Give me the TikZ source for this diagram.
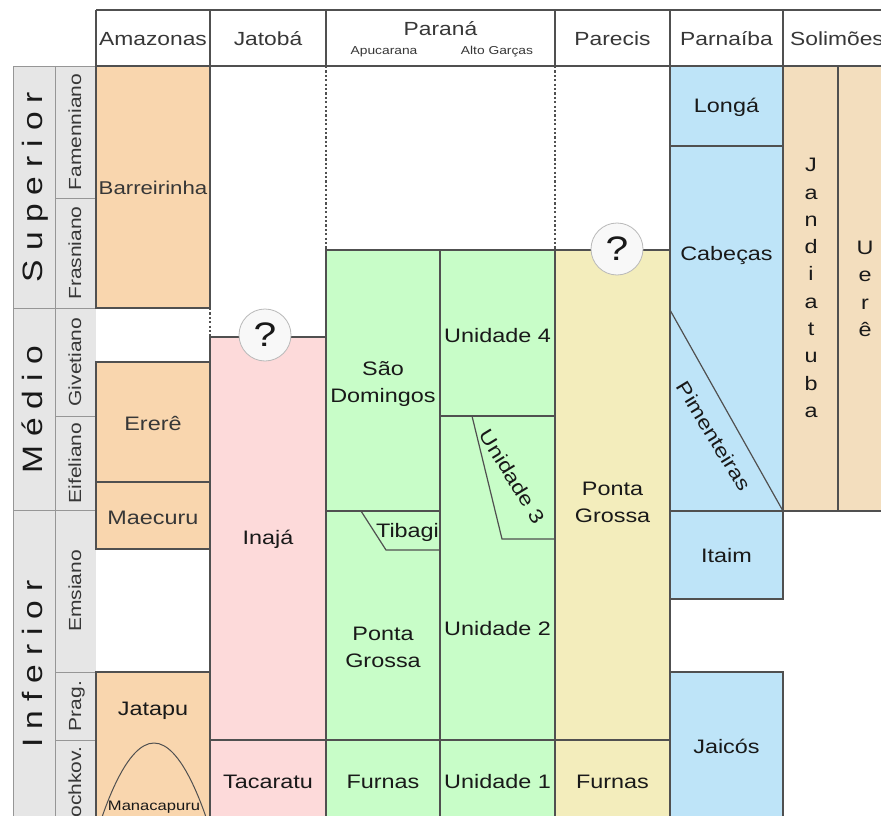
\documentclass[tikz,border=0pt]{standalone}
\usepackage{fontspec}
\setmainfont[FakeStretch=1.2]{Liberation Sans}
\definecolor{amz}{RGB}{249,214,174}
\definecolor{pnk}{RGB}{253,218,218}
\definecolor{grn}{RGB}{200,253,200}
\definecolor{ylw}{RGB}{243,237,188}
\definecolor{blu}{RGB}{190,228,248}
\definecolor{sol}{RGB}{243,222,190}
\definecolor{gry}{RGB}{230,230,230}
\definecolor{bd}{RGB}{80,80,80}
\definecolor{eln}{RGB}{150,150,150}
\definecolor{tx}{RGB}{25,25,25}
\definecolor{txb}{RGB}{55,55,55}
\definecolor{qfill}{RGB}{248,248,248}
\definecolor{qline}{RGB}{185,185,185}
\newcommand\sgap{\hspace{9pt}}
\tikzset{
  cell/.style={draw=bd, line width=1.2pt},
  eraline/.style={draw=eln, line width=0.9pt},
  dotl/.style={draw=bd, line width=1.5pt, dash pattern=on 2.2pt off 2.2pt},
  lbl/.style={text=tx, font=\fontsize{19.5}{27.3}\selectfont, inner sep=0pt, anchor=base},
  stack/.style={text=tx, font=\fontsize{19.5}{27.3}\selectfont, inner sep=0pt, align=center},
  slant/.style={text=tx, font=\fontsize{19.5}{22}\selectfont, inner sep=0pt},
  stagelbl/.style={text=txb, font=\fontsize{17.5}{20}\selectfont, rotate=90, inner sep=0pt, anchor=base},
  eralbl/.style={text=tx, font=\fontsize{28}{30}\selectfont, rotate=90, inner sep=0pt, anchor=base},
  hdr/.style={text=txb, font=\fontsize{19}{22}\selectfont, inner sep=0pt, anchor=base},
  sublbl/.style={text=txb, font=\fontsize{11.5}{13}\selectfont, inner sep=0pt, anchor=base},
  qm/.style={circle, minimum size=52pt, fill=qfill, draw=qline, line width=0.8pt, inner sep=0pt, text=tx, font=\fontsize{34}{36}\selectfont},
}
\begin{document}
\begin{tikzpicture}[x=1pt,y=-1pt]
\useasboundingbox (0,0) rectangle (881,816);
\clip (0,0) rectangle (881,816);
\fill[white] (0,0) rectangle (881,816);

% ---- era / stage columns
\fill[gry] (13,66) rectangle (96,840);
\draw[eraline] (13,840) -- (13,66) -- (96,66);
\draw[eraline] (55,66) -- (55,840);
\draw[eraline] (13,308) -- (96,308);
\draw[eraline] (13,510) -- (96,510);
\draw[eraline] (55,198) -- (96,198);
\draw[eraline] (55,416) -- (96,416);
\draw[eraline] (55,672) -- (96,672);
\draw[eraline] (55,740) -- (96,740);

\node[eralbl] (sup) at (42,187) {S\sgap u\sgap p\sgap e\sgap r\sgap i\sgap o\sgap r};
\node[eralbl] (med) at (42,410) {M\sgap é\sgap d\sgap i\sgap o};
\node[eralbl] (inf) at (42,664) {I\sgap n\sgap f\sgap e\sgap r\sgap i\sgap o\sgap r};

\node[stagelbl] (fam) at (81,132) {Famenniano};
\node[stagelbl] (fra) at (81,253) {Frasniano};
\node[stagelbl] (giv) at (81,362) {Givetiano};
\node[stagelbl] (eif) at (81,463) {Eifeliano};
\node[stagelbl] (ems) at (81,591) {Emsiano};
\node[stagelbl] (pra) at (81,706) {Prag.};
\node[stagelbl] (loc) at (81,788) {Lochkov.};

% ---- dotted boundaries in empty parts
\draw[dotl] (210,66) -- (210,337);
\draw[dotl] (326,66) -- (326,250);
\draw[dotl] (555,66) -- (555,250);

% ---- Amazonas
\filldraw[fill=amz, cell] (96,66) rectangle (210,308);
\filldraw[fill=amz, cell] (96,362) rectangle (210,482);
\filldraw[fill=amz, cell] (96,482) rectangle (210,549);
\filldraw[fill=amz, cell] (96,672) rectangle (210,840);
\draw[bd, line width=1pt] (99,826) parabola bend (154,743) (209,826);

% ---- Jatoba
\filldraw[fill=pnk, cell] (210,337) rectangle (326,740);
\filldraw[fill=pnk, cell] (210,740) rectangle (326,840);

% ---- Parana (Apucarana)
\filldraw[fill=grn, cell] (326,250) rectangle (440,511);
\filldraw[fill=grn, cell] (326,511) rectangle (440,740);
\draw[cell] (361,511) -- (386,550) -- (440,550);
\filldraw[fill=grn, cell] (326,740) rectangle (440,840);

% ---- Parana (Alto Garcas)
\filldraw[fill=grn, cell] (440,250) rectangle (555,416);
\filldraw[fill=grn, cell] (440,416) rectangle (555,740);
\draw[cell] (472,416) -- (502,539) -- (555,539);
\filldraw[fill=grn, cell] (440,740) rectangle (555,840);

% ---- Parecis
\filldraw[fill=ylw, cell] (555,250) rectangle (670,740);
\filldraw[fill=ylw, cell] (555,740) rectangle (670,840);

% ---- Parnaiba
\filldraw[fill=blu, cell] (670,66) rectangle (783,146);
\filldraw[fill=blu, cell] (670,146) rectangle (783,511);
\draw[cell] (670,310) -- (783,511);
\filldraw[fill=blu, cell] (670,511) rectangle (783,599);
\filldraw[fill=blu, cell] (670,672) rectangle (783,840);

% ---- Solimoes
\filldraw[fill=sol, cell] (783,66) rectangle (838,511);
\filldraw[fill=sol, cell] (838,66) rectangle (895,511);

% ---- header
\draw[cell] (96,10) -- (895,10);
\draw[cell] (96,66) -- (895,66);
\foreach \hx in {96,210,326,555,670,783} \draw[cell] (\hx,10) -- (\hx,66);

\node[hdr] (hamz) at (153,46) {Amazonas};
\node[hdr] (hjat) at (268,46) {Jatobá};
\node[hdr] (hpar) at (440.5,36) {Paraná};
\node[sublbl] (hapu) at (384,55) {Apucarana};
\node[sublbl] (halt) at (497,55) {Alto Garças};
\node[hdr] (hprc) at (612.5,46) {Parecis};
\node[hdr] (hpnb) at (726.5,46) {Parnaíba};
\node[hdr] (hsol) at (837,46) {Solimões};

% ---- cell labels
\node[lbl, font=\fontsize{18.5}{22}\selectfont, text=txb] (barr) at (153,194) {Barreirinha};
\node[lbl, text=txb] (erer) at (153,430) {Ererê};
\node[lbl, text=txb] (maec) at (153,524) {Maecuru};
\node[lbl] (jata) at (153,715) {Jatapu};
\node[lbl, font=\fontsize{13.8}{16}\selectfont] (mana) at (154,810) {Manacapuru};

\node[lbl] (inaj) at (268,544) {Inajá};
\node[lbl] (taca) at (268,788) {Tacaratu};

\node[lbl] (sdo1) at (383,375) {São};
\node[lbl] (sdo2) at (383,402) {Domingos};
\node[lbl] (tiba) at (407.5,537) {Tibagi};
\node[lbl] (pga1) at (383,640) {Ponta};
\node[lbl] (pga2) at (383,667) {Grossa};
\node[lbl] (furA) at (383,788) {Furnas};

\node[lbl] (uni4) at (497.5,342) {Unidade 4};
\node[slant, rotate=-58.5] (uni3) at (512.5,476.5) {Unidade 3};
\node[lbl] (uni2) at (497.5,635) {Unidade 2};
\node[lbl] (uni1) at (497.5,788) {Unidade 1};

\node[lbl] (pgb1) at (612.5,495) {Ponta};
\node[lbl] (pgb2) at (612.5,522) {Grossa};
\node[lbl] (furB) at (612.5,788) {Furnas};

\node[lbl] (long) at (726.5,112) {Longá};
\node[lbl] (cabe) at (726.5,260) {Cabeças};
\node[slant, rotate=-58.7] (pime) at (714,436) {Pimenteiras};
\node[lbl] (itai) at (726.5,562) {Itaim};
\node[lbl] (jaic) at (726.5,753) {Jaicós};

\node[stack] (jand) at (811,288) {J\\a\\n\\d\\i\\a\\t\\u\\b\\a};
\node[stack] (uere) at (865,289) {U\\e\\r\\ê};

% ---- question marks
\node[qm] (q1) at (265,335) {?};
\node[qm] (q2) at (617,249) {?};
\end{tikzpicture}
\end{document}
